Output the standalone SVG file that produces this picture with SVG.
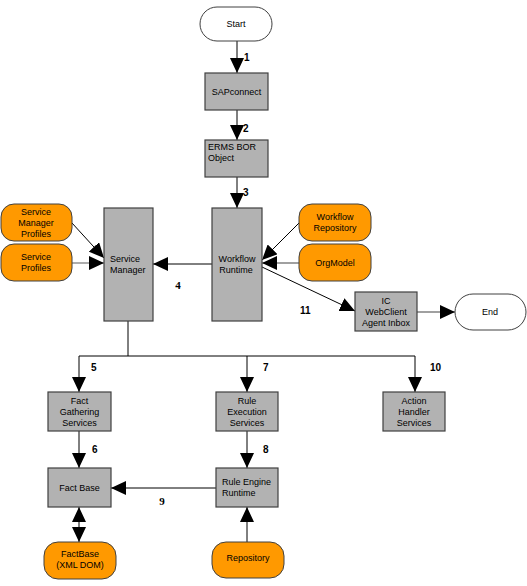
<svg xmlns="http://www.w3.org/2000/svg" width="527" height="586" viewBox="0 0 527 586">
<style>
.bg{fill:#ffffff}
.box{fill:#b2b2b2;stroke:#404040;stroke-width:1.2}
.term{fill:#ffffff;stroke:#404040;stroke-width:1}
.ext{fill:#ff9900;stroke:#404040;stroke-width:1}
.t{font-family:"Liberation Sans",Arial,sans-serif;font-size:9px;fill:#000;text-anchor:middle}
.tl{font-family:"Liberation Sans",Arial,sans-serif;font-size:9px;fill:#000}
.n{font-family:"Liberation Sans",Arial,sans-serif;font-size:10px;font-weight:bold;fill:#000}
.ns{font-family:"Liberation Serif","Times New Roman",serif;font-size:11px;font-weight:bold;fill:#000;text-anchor:middle}
.c{stroke:#000;stroke-width:1;fill:none}
.cg{stroke:#808080;stroke-width:1.3;fill:none}
</style>
<defs>
<marker id="ah" viewBox="0 0 15 14" refX="15" refY="7" markerWidth="15" markerHeight="14" markerUnits="userSpaceOnUse" orient="auto">
<path d="M0,0 L15,7 L0,14 z" fill="#000"/>
</marker>
</defs>
<rect class="bg" x="0" y="0" width="527" height="586"/>
<g id="connectors">
<line class="c" x1="237" y1="41" x2="237" y2="73" marker-end="url(#ah)"/>
<line class="c" x1="237" y1="110" x2="237" y2="140" marker-end="url(#ah)"/>
<line class="c" x1="237" y1="177" x2="237" y2="208" marker-end="url(#ah)"/>
<line class="c" x1="212" y1="264" x2="153" y2="264" marker-end="url(#ah)"/>
<line class="c" x1="72" y1="223" x2="104" y2="258" marker-end="url(#ah)"/>
<line class="cg" x1="72" y1="263" x2="104" y2="263" marker-end="url(#ah)"/>
<line class="c" x1="299" y1="223" x2="262" y2="260" marker-end="url(#ah)"/>
<line class="cg" x1="299" y1="263" x2="262" y2="263" marker-end="url(#ah)"/>
<line class="c" x1="262" y1="267" x2="355" y2="311" marker-end="url(#ah)"/>
<line class="cg" x1="417" y1="312" x2="455" y2="312" marker-end="url(#ah)"/>
<polyline class="c" points="128,321 128,356"/>
<line class="c" x1="79" y1="356" x2="415" y2="356"/>
<line class="c" x1="79" y1="356" x2="79" y2="392" marker-end="url(#ah)"/>
<line class="c" x1="247" y1="356" x2="247" y2="392" marker-end="url(#ah)"/>
<line class="c" x1="415" y1="356" x2="415" y2="392" marker-end="url(#ah)"/>
<line class="c" x1="79" y1="431" x2="79" y2="468" marker-end="url(#ah)"/>
<line class="c" x1="247" y1="431" x2="247" y2="468" marker-end="url(#ah)"/>
<line class="c" x1="216" y1="488" x2="111" y2="488" marker-end="url(#ah)"/>
<line class="c" x1="79" y1="525" x2="79" y2="507" marker-end="url(#ah)"/>
<line class="c" x1="79" y1="525" x2="79" y2="542" marker-end="url(#ah)"/>
<line class="c" x1="247" y1="542" x2="247" y2="507" marker-end="url(#ah)"/>
<text class="n" x="244" y="61">1</text>
<text class="n" x="243" y="132">2</text>
<text class="n" x="243" y="196">3</text>
<text class="ns" x="178" y="289">4</text>
<text class="n" x="91" y="371">5</text>
<text class="n" x="92" y="453">6</text>
<text class="n" x="263" y="371">7</text>
<text class="n" x="263" y="453">8</text>
<text class="ns" x="162" y="505">9</text>
<text class="n" x="430" y="371">10</text>
<text class="n" x="300" y="314">11</text>
</g>
<g id="start"><rect class="term" x="200" y="7" width="72" height="34" rx="17"/><text class="t" x="236" y="27">Start</text></g>
<g id="sapconnect"><rect class="box" x="205" y="73" width="63" height="37"/><text class="t" x="236.5" y="95">SAPconnect</text></g>
<g id="erms"><rect class="box" x="205" y="140" width="63" height="37"/><text class="tl" x="208" y="150">ERMS BOR</text><text class="tl" x="208" y="161">Object</text></g>
<g id="workflow-runtime"><rect class="box" x="212" y="208" width="50" height="113"/><text class="t" x="237" y="262">Workflow</text><text class="t" x="236" y="273">Runtime</text></g>
<g id="service-manager"><rect class="box" x="104" y="208" width="49" height="113"/><text class="tl" x="110" y="262">Service</text><text class="tl" x="110" y="273">Manager</text></g>
<g id="service-manager-profiles"><rect class="ext" x="1" y="204" width="71" height="37" rx="13"/><text class="t" x="36" y="215">Service</text><text class="t" x="36" y="226">Manager</text><text class="t" x="36" y="237">Profiles</text></g>
<g id="service-profiles"><rect class="ext" x="1" y="244" width="71" height="37" rx="13"/><text class="t" x="36" y="260">Service</text><text class="t" x="36" y="271">Profiles</text></g>
<g id="workflow-repository"><rect class="ext" x="299" y="204" width="72" height="37" rx="13"/><text class="t" x="335" y="220">Workflow</text><text class="t" x="335" y="231">Repository</text></g>
<g id="orgmodel"><rect class="ext" x="299" y="244" width="72" height="37" rx="13"/><text class="t" x="335" y="266">OrgModel</text></g>
<g id="ic-webclient"><rect class="box" x="355" y="292" width="62" height="39"/><text class="t" x="386" y="304">IC</text><text class="t" x="386" y="315">WebClient</text><text class="t" x="386" y="326">Agent Inbox</text></g>
<g id="end"><rect class="term" x="455" y="294" width="71" height="36" rx="18"/><text class="t" x="490" y="315">End</text></g>
<g id="fact-gathering"><rect class="box" x="48" y="392" width="63" height="39"/><text class="t" x="79.5" y="404">Fact</text><text class="t" x="79.5" y="415">Gathering</text><text class="t" x="79.5" y="426">Services</text></g>
<g id="rule-execution"><rect class="box" x="216" y="392" width="62" height="39"/><text class="t" x="247" y="404">Rule</text><text class="t" x="247" y="415">Execution</text><text class="t" x="247" y="426">Services</text></g>
<g id="action-handler"><rect class="box" x="383" y="392" width="62" height="39"/><text class="t" x="414" y="404">Action</text><text class="t" x="414" y="415">Handler</text><text class="t" x="414" y="426">Services</text></g>
<g id="fact-base"><rect class="box" x="48" y="468" width="63" height="39"/><text class="t" x="79.5" y="491">Fact Base</text></g>
<g id="rule-engine-runtime"><rect class="box" x="216" y="468" width="62" height="39"/><text class="tl" x="222" y="485">Rule Engine</text><text class="tl" x="222" y="496">Runtime</text></g>
<g id="factbase-xml"><rect class="ext" x="44" y="542" width="72" height="37" rx="14"/><text class="t" x="80" y="557">FactBase</text><text class="t" x="80" y="568">(XML DOM)</text></g>
<g id="repository"><rect class="ext" x="212" y="542" width="72" height="36" rx="14"/><text class="t" x="248" y="561">Repository</text></g>
</svg>
